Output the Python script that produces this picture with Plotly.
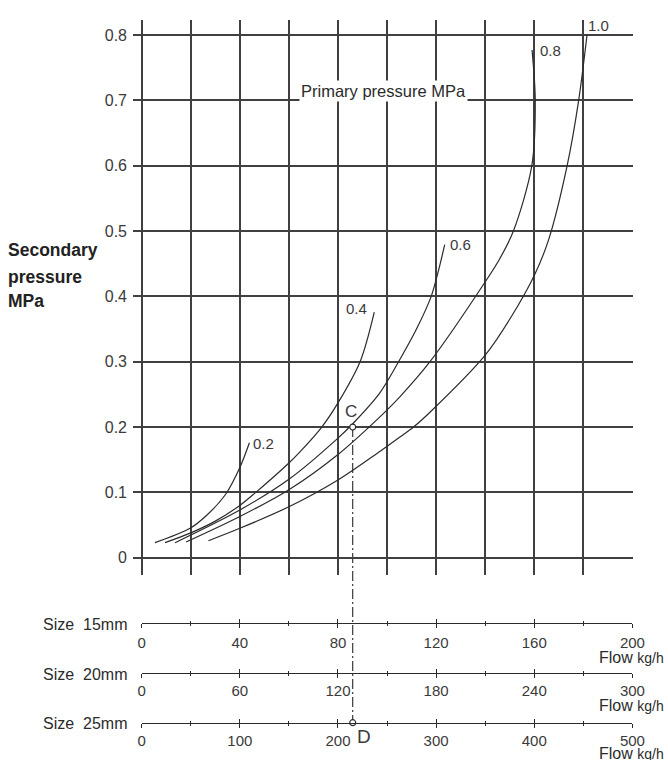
import plotly.graph_objects as go

# ---------------- data ----------------
y_ticks = [0, 0.1, 0.2, 0.3, 0.4, 0.5, 0.6, 0.7, 0.8]
y_tick_labels = ["0", "0.1", "0.2", "0.3", "0.4", "0.5", "0.6", "0.7", "0.8"]

primary_labels = ["0.2", "0.4", "0.6", "0.8", "1.0"]

flow_02 = [5.4, 19.7, 26.5, 34, 40.1, 43.9]
p_02 = [0.023, 0.045, 0.065, 0.096, 0.139, 0.176]

flow_04 = [9.5, 20, 30, 40, 46.5, 60, 64.5, 73.4, 80, 89, 94.8]
p_04 = [0.023, 0.038, 0.056, 0.080, 0.100, 0.145, 0.162, 0.200, 0.237, 0.300, 0.376]

flow_06 = [13.6, 40, 60, 80, 86, 97, 104.7, 112, 118, 121, 123.5]
p_06 = [0.023, 0.073, 0.120, 0.183, 0.205, 0.252, 0.300, 0.350, 0.400, 0.440, 0.479]

flow_08 = [18.1, 40, 60, 80, 97.2, 105.4, 117.5, 140.5, 146, 151.5, 159, 160.4, 159.1]
p_08 = [0.024, 0.063, 0.104, 0.158, 0.216, 0.247, 0.300, 0.425, 0.458, 0.500, 0.600, 0.700, 0.777]

flow_10 = [27.2, 40, 60, 80, 97.2, 105.4, 110.8, 117.6, 140, 150, 160, 165.8, 173.4, 178.1, 181.5]
p_10 = [0.026, 0.045, 0.078, 0.119, 0.163, 0.185, 0.200, 0.223, 0.310, 0.365, 0.432, 0.486, 0.600, 0.700, 0.800]

# curve label anchor positions (flow on 15mm scale, pressure)
label_flow = [49.6, 87.7, 129.8, 166.6, 186.3]
label_p = [0.175, 0.382, 0.480, 0.777, 0.814]

# example point C (15mm flow, secondary pressure) and D (25mm flow)
C_flow = 86
C_pressure = 0.2
D_flow = 215

size_names = ["Size  15mm", "Size  20mm", "Size  25mm"]
size_max = [200, 300, 500]
size_major = [[0, 40, 80, 120, 160, 200],
              [0, 60, 120, 180, 240, 300],
              [0, 100, 200, 300, 400, 500]]
size_minor_step = [20, 30, 50]

# ---------------- layout geometry (pixels) ----------------
W, H = 668, 760
def px(v): return v / W
def py(v): return 1 - v / H

GX0, GX_ZERO, GX_END = 133.0, 141.7, 632.4
GY_TOP, GY_08, GY_ZERO, GY_BOT = 20.0, 35.0, 557.7, 575.0
x_unit = (GX_END - GX_ZERO) / 200.0
y_unit = (GY_ZERO - GY_08) / 0.8
x_range = [-(GX_ZERO - GX0) / x_unit, 200 + 0.6 / x_unit]
y_range = [-(GY_BOT - GY_ZERO) / y_unit, 0.8 + (GY_08 - GY_TOP) / y_unit]
main_xdom = [px(GX0), px(GX_END + 0.6)]
main_ydom = [py(GY_BOT), py(GY_TOP)]
scale_y = [623.3, 673.3, 722.7]

INK = "#2b2b2b"
GRID = "#404040"
TXT = "#3a3a3a"
FONT = "Liberation Sans, Arial, sans-serif"

fig = go.Figure()

curves = [(flow_02, p_02), (flow_04, p_04), (flow_06, p_06), (flow_08, p_08), (flow_10, p_10)]
for (fx, fy), name in zip(curves, primary_labels):
    fig.add_trace(go.Scatter(x=fx, y=fy, mode="lines", name=name,
                             line=dict(color=INK, width=1.2, shape="spline", smoothing=0.9),
                             xaxis="x", yaxis="y", hoverinfo="skip"))

fig.add_trace(go.Scatter(x=[C_flow], y=[C_pressure], mode="markers",
                         marker=dict(symbol="circle", size=6, color="white",
                                     line=dict(color=INK, width=1.2)),
                         xaxis="x", yaxis="y", hoverinfo="skip"))

layout = dict(
    width=W, height=H, margin=dict(l=0, r=0, t=0, b=0, autoexpand=False), autosize=False,
    paper_bgcolor="white", plot_bgcolor="rgba(0,0,0,0)",
    showlegend=False, font=dict(family=FONT, color=TXT, size=15),
    xaxis=dict(domain=main_xdom, range=x_range, anchor="y", automargin=False,
               tickmode="linear", tick0=0, dtick=20,
               showgrid=True, gridcolor=GRID, gridwidth=1.5,
               zeroline=False, showline=False, showticklabels=False, ticks=""),
    yaxis=dict(domain=main_ydom, range=y_range, anchor="x", automargin=False,
               tickmode="array", tickvals=y_ticks, ticktext=y_tick_labels,
               showgrid=True, gridcolor=GRID, gridwidth=1.5,
               zeroline=False, showline=False, ticks="",
               ticklabelstandoff=5,
               tickfont=dict(size=16, color=TXT, family=FONT)),
)

for i in range(3):
    k = i + 2          # scale subplot (labels + downward ticks)
    ko = i + 5         # overlay axis for upward ticks
    yp = py(scale_y[i])
    layout["yaxis%d" % k] = dict(domain=[yp, yp + 0.01], range=[-1, 1], anchor="x%d" % k,
                                 visible=False, fixedrange=True, automargin=False)
    common = dict(range=[0, size_max[i]], automargin=False, showgrid=False, zeroline=False,
                  tickmode="array", tickvals=size_major[i], tickwidth=1.2, tickcolor=INK)
    layout["xaxis%d" % k] = dict(domain=[px(GX_ZERO), px(GX_END)], anchor="y%d" % k,
                                 showline=True, linecolor=INK, linewidth=1.3,
                                 ticktext=[str(v) for v in size_major[i]],
                                 ticks="outside", ticklen=4,
                                 minor=dict(dtick=size_minor_step[i], tick0=0, ticks="outside",
                                            ticklen=2, tickwidth=1.2, tickcolor=INK),
                                 ticklabelstandoff=2 if i == 0 else 0,
                                 tickfont=dict(size=15, color=TXT, family=FONT), **common)
    layout["xaxis%d" % ko] = dict(overlaying="x%d" % k, anchor="y%d" % k, side="bottom",
                                  showline=False, showticklabels=False,
                                  ticks="inside", ticklen=4,
                                  minor=dict(dtick=size_minor_step[i], tick0=0, ticks="inside",
                                             ticklen=2, tickwidth=1.2, tickcolor=INK),
                                  **common)
    fig.add_trace(go.Scatter(x=[], y=[], xaxis="x%d" % k, yaxis="y%d" % k))
    fig.add_trace(go.Scatter(x=[], y=[], xaxis="x%d" % ko, yaxis="y%d" % k))

fig.update_layout(**layout)

# point D on the 25mm scale
fig.add_trace(go.Scatter(x=[D_flow], y=[-1], mode="markers",
                         marker=dict(symbol="circle", size=6, color="white",
                                     line=dict(color=INK, width=1.2)),
                         xaxis="x4", yaxis="y4", hoverinfo="skip", cliponaxis=False))

# dash-dot connector C -> D
c_paper = main_ydom[0] + (C_pressure - y_range[0]) / (y_range[1] - y_range[0]) * (main_ydom[1] - main_ydom[0])
fig.add_shape(type="line", xref="x", yref="paper", x0=C_flow, x1=C_flow,
              y0=c_paper, y1=py(scale_y[2]), layer="below",
              line=dict(color=INK, width=1.1, dash="10px,3px,2px,3px"))

ann = []
for t, fx, fy in zip(primary_labels, label_flow, label_p):
    ann.append(dict(text=t, x=fx, y=fy, xref="x", yref="y", showarrow=False,
                    font=dict(size=15, color=TXT, family=FONT)))
ann.append(dict(text="C", x=C_flow, y=C_pressure, xref="x", yref="y", showarrow=False,
                xshift=-2, yshift=16, font=dict(size=17, color=TXT, family=FONT)))
ann.append(dict(text="D", x=D_flow, y=-1, xref="x4", yref="y4", showarrow=False,
                xshift=11, yshift=-14, font=dict(size=19, color=TXT, family=FONT)))
ann.append(dict(text="Primary pressure MPa", x=px(383), y=py(80), xref="paper", yref="paper",
                showarrow=False, bgcolor="white", borderpad=1,
                font=dict(size=16.5, color=INK, family=FONT)))
for t, yy in zip(["Secondary", "pressure", "MPa"], [250, 277, 301]):
    ann.append(dict(text="<b>" + t + "</b>", x=px(6), y=py(yy), xref="paper", yref="paper",
                    xanchor="left", yanchor="middle", showarrow=False,
                    font=dict(size=17.5, color="#222222", family=FONT)))
for name, yy in zip(size_names, scale_y):
    ann.append(dict(text=name, x=px(129), y=py(yy + 1), xref="paper", yref="paper",
                    xanchor="right", yanchor="middle", showarrow=False,
                    font=dict(size=16, color=INK, family=FONT)))
for yy in [657.7, 705.7, 753.0]:
    ann.append(dict(text="Flow <span style='font-size:14px'>kg/h</span>", x=px(666), y=py(yy),
                    xref="paper", yref="paper", xanchor="right", yanchor="middle",
                    showarrow=False, font=dict(size=16, color=INK, family=FONT)))
fig.update_layout(annotations=ann)

fig.write_html("out.html", config={"responsive": False, "displayModeBar": False},
               post_script="document.body.style.margin='0';"
                           "document.documentElement.style.overflow='hidden';")
